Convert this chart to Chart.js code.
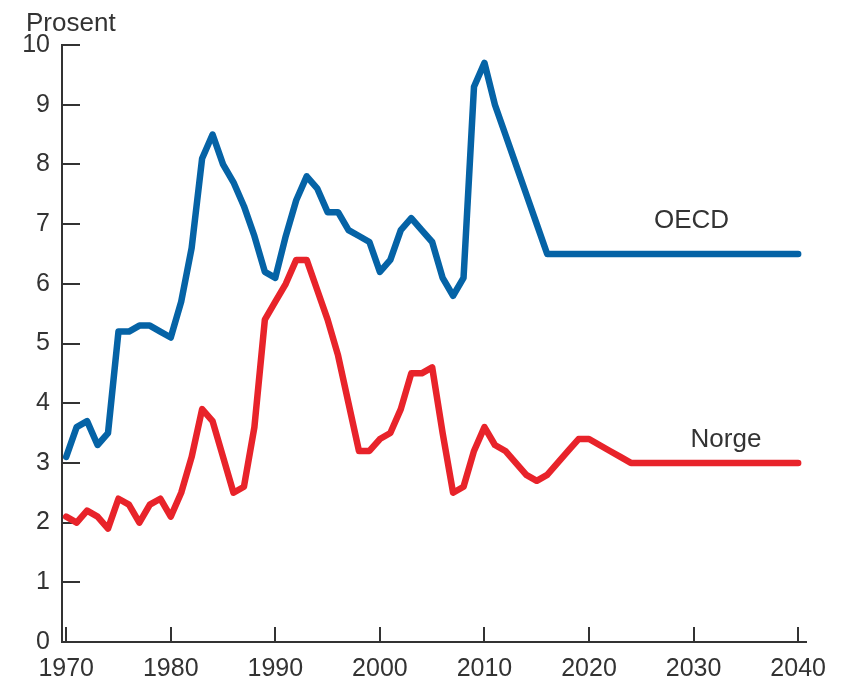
<!DOCTYPE html>
<html>
<head>
<meta charset="utf-8">
<script src="https://cdn.jsdelivr.net/npm/chart.js@4.4.0/dist/chart.umd.min.js"></script>
<style>
  body { margin: 0; background: #fff; }
  #wrap { width: 845px; height: 688px; position: relative; }
</style>
</head>
<body>
<div id="wrap"><canvas id="grafico"></canvas></div>
<script>
const years = [];
for (let y = 1970; y <= 2040; y++) years.push(y);

// OECD, 1970-2040
const oecd = [
  3.1, 3.6, 3.7, 3.3, 3.5, 5.2, 5.2, 5.3, 5.3, 5.2,
  5.1, 5.7, 6.6, 8.1, 8.5, 8.0, 7.7, 7.3, 6.8, 6.2,
  6.1, 6.8, 7.4, 7.8, 7.6, 7.2, 7.2, 6.9, 6.8, 6.7,
  6.2, 6.4, 6.9, 7.1, 6.9, 6.7, 6.1, 5.8, 6.1, 9.3,
  9.7, 9.0, 8.5, 8.0, 7.5, 7.0, 6.5, 6.5, 6.5, 6.5,
  6.5, 6.5, 6.5, 6.5, 6.5, 6.5, 6.5, 6.5, 6.5, 6.5,
  6.5, 6.5, 6.5, 6.5, 6.5, 6.5, 6.5, 6.5, 6.5, 6.5,
  6.5
];

// Norge, 1970-2040
const norge = [
  2.1, 2.0, 2.2, 2.1, 1.9, 2.4, 2.3, 2.0, 2.3, 2.4,
  2.1, 2.5, 3.1, 3.9, 3.7, 3.1, 2.5, 2.6, 3.6, 5.4,
  5.7, 6.0, 6.4, 6.4, 5.9, 5.4, 4.8, 4.0, 3.2, 3.2,
  3.4, 3.5, 3.9, 4.5, 4.5, 4.6, 3.5, 2.5, 2.6, 3.2,
  3.6, 3.3, 3.2, 3.0, 2.8, 2.7, 2.8, 3.0, 3.2, 3.4,
  3.4, 3.3, 3.2, 3.1, 3.0, 3.0, 3.0, 3.0, 3.0, 3.0,
  3.0, 3.0, 3.0, 3.0, 3.0, 3.0, 3.0, 3.0, 3.0, 3.0,
  3.0
];

const xTicks = [1970, 1980, 1990, 2000, 2010, 2020, 2030, 2040];
const yTicks = [0, 1, 2, 3, 4, 5, 6, 7, 8, 9, 10];

const seriesLabels = [
  { text: 'OECD', x: 2029.8, y: 6.93 },
  { text: 'Norge', x: 2033.1, y: 3.26 }
];

const fontFam = '"Liberation Sans", Arial, sans-serif';
const textColor = '#333';

const marker = {
  id: 'marker',
  beforeDatasetsDraw(chart) {
    const { ctx, scales: { x, y } } = chart;
    ctx.save();
    ctx.strokeStyle = textColor;
    ctx.lineWidth = 2;
    yTicks.slice(1).forEach(v => {
      const py = Math.round(y.getPixelForValue(v));
      ctx.beginPath();
      ctx.moveTo(x.left, py);
      ctx.lineTo(x.left + 18, py);
      ctx.stroke();
    });
    xTicks.forEach(v => {
      const px = Math.round(x.getPixelForValue(v));
      ctx.beginPath();
      ctx.moveTo(px, y.bottom);
      ctx.lineTo(px, y.bottom - 15);
      ctx.stroke();
    });
    ctx.restore();
  },
  afterDraw(chart) {
    const { ctx, scales: { x, y } } = chart;
    ctx.save();
    ctx.fillStyle = textColor;
    ctx.font = '26px ' + fontFam;
    ctx.textAlign = 'left';
    ctx.textBaseline = 'alphabetic';
    ctx.fillText('Prosent', 26, 31);
    ctx.textAlign = 'center';
    seriesLabels.forEach(l => {
      ctx.fillText(l.text, x.getPixelForValue(l.x), y.getPixelForValue(l.y));
    });
    ctx.restore();
  }
};

const dataChart = {
  datasets: [
    {
      label: 'OECD',
      data: years.map((yr, i) => ({ x: yr, y: oecd[i] })),
      borderColor: '#0563a6',
      borderWidth: 6.5,
      pointRadius: 0,
      tension: 0,
      borderJoinStyle: 'round',
      borderCapStyle: 'round'
    },
    {
      label: 'Norge',
      data: years.map((yr, i) => ({ x: yr, y: norge[i] })),
      borderColor: '#e8232a',
      borderWidth: 6.5,
      pointRadius: 0,
      tension: 0,
      borderJoinStyle: 'round',
      borderCapStyle: 'round'
    }
  ]
};

const config = {
  type: 'line',
  data: dataChart,
  plugins: [marker],
  options: {
    responsive: true,
    maintainAspectRatio: false,
    animation: false,
    layout: { padding: { left: 22, top: 45, right: 39, bottom: 0 } },
    plugins: {
      legend: { display: false },
      tooltip: { enabled: false }
    },
    scales: {
      x: {
        type: 'linear',
        min: 1969.6,
        max: 2040.75,
        afterBuildTicks: scale => { scale.ticks = xTicks.map(v => ({ value: v })); },
        afterFit: scale => { scale.height = 46; },
        ticks: {
          font: { size: 25, family: fontFam },
          color: textColor,
          padding: 12,
          maxRotation: 0,
          autoSkip: false,
          callback: v => String(v)
        },
        grid: { display: false, drawTicks: false },
        border: { display: true, color: textColor, width: 2 }
      },
      y: {
        min: 0,
        max: 10,
        afterBuildTicks: scale => { scale.ticks = yTicks.map(v => ({ value: v })); },
        afterFit: scale => { scale.width = 40; },
        ticks: {
          font: { size: 25, family: fontFam },
          color: textColor,
          padding: 12,
          callback: v => String(v)
        },
        grid: { display: false, drawTicks: false },
        border: { display: true, color: textColor, width: 2 }
      }
    }
  }
};

new Chart(document.getElementById('grafico'), config);
</script>
</body>
</html>
